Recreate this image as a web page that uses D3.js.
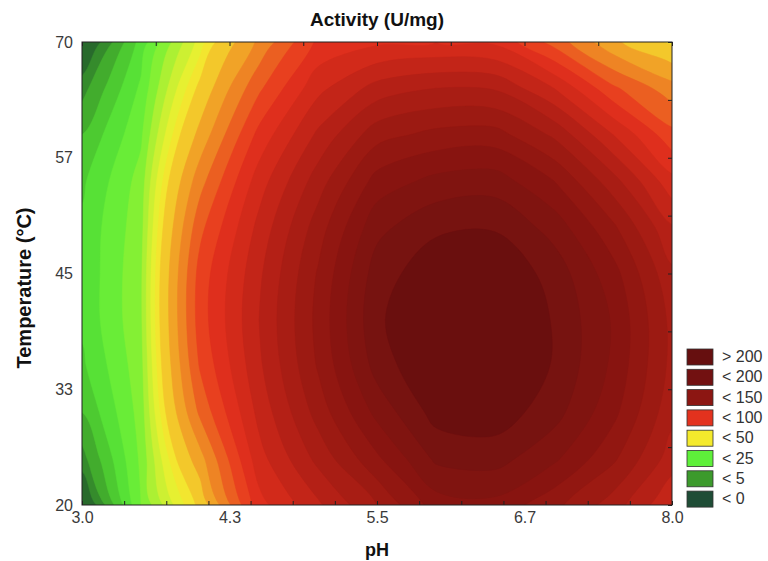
<!DOCTYPE html>
<html>
<head>
<meta charset="utf-8">
<script src="https://cdn.jsdelivr.net/npm/d3@7"></script>
<style>
  body { margin: 0; background: #fff; }
  svg { display: block; font-family: "Liberation Sans", Arial, sans-serif; }
  .axis text { fill: #3a3a3a; font-size: 16px; font-family: "Liberation Sans", Arial, sans-serif; }
  .title, .label { font-weight: bold; fill: #111; }
  .legend text { fill: #333; font-size: 16px; }
</style>
</head>
<body>
<svg width="768" height="561"></svg>
<script>
const phValues = [3.0, 3.5, 4.0, 4.5, 5.0, 5.5, 6.0, 6.5, 7.0, 7.5, 8.0]
const tempValues = [20, 25, 30, 35, 40, 45, 50, 55, 60, 65, 70]

// activity (U/mg), one row per temperature (20 -> 70), one column per pH
const activity = [
    [-8, 25, 52, 106, 128, 150, 175, 177, 163, 145, 121],
    [ 3, 26, 66, 116, 143, 168, 192, 194, 182, 162, 135],
    [10, 27, 82, 123, 154, 183, 204, 206, 194, 173, 143],
    [14, 28, 91, 128, 161, 194, 211, 213, 199, 178, 147],
    [16, 29, 95, 130, 163, 198, 212, 214, 199, 179, 147],
    [16, 29, 94, 128, 161, 195, 207, 209, 196, 174, 142],
    [16, 28, 87, 123, 155, 187, 198, 199, 186, 162, 131],
    [14, 27, 76, 115, 145, 174, 183, 185, 170, 144, 113],
    [10, 24, 63, 103, 132, 156, 163, 164, 148, 120,  93],
    [ 3, 21, 52,  88, 117, 134, 140, 139, 120,  92,  74],
    [-8, 17, 42,  72, 102, 108, 110, 108,  86,  62,  48]
]

const xTicks = [3.0, 4.25, 5.5, 6.75, 8.0]
const xTickLabels = ["3.0", "4.3", "5.5", "6.7", "8.0"]
const yTicks = [20, 32.5, 45, 57.5, 70]
const yTickLabels = ["20", "33", "45", "57", "70"]

const legendLabels = ["> 200", "< 200", "< 150", "< 100", "< 50", "< 25", "< 5", "< 0"]
const legendColors = ["#660f0f", "#721111", "#8c1612", "#e3321e", "#f4ea2c", "#5ef03a", "#3c9a2c", "#1f4d36"]

// value -> colour anchors of the map
const colorStops = [-15, 0, 5, 12, 20, 27, 35, 45, 52, 62, 75, 88, 100, 115, 135, 155, 175, 195, 207]
const colorRange = ["#1c4a2c", "#2e7a2c", "#3c9c2c", "#4cc830", "#5cec38", "#80f034", "#c0f032", "#f2f030",
    "#f4d42c", "#f2ac28", "#ee8424", "#ea5420", "#e6321e", "#d22a1a", "#b42016", "#9c1a12", "#881410",
    "#771310", "#6a0f0e"]

const levels = d3.range(-20, 0, 10).concat(d3.range(0, 50, 5), d3.range(50, 201, 10))

const svg = d3.select("svg")

const x = d3.scaleLinear()
    .domain([3, 8])
    .range([82, 672])

const y = d3.scaleLinear()
    .domain([20, 70])
    .range([505, 42])

const color = d3.scaleLinear()
    .domain(colorStops)
    .range(colorRange)
    .clamp(true)

svg.append("rect")
    .attr("width", 768)
    .attr("height", 561)
    .attr("fill", "#fff")

svg.append("clipPath")
    .attr("id", "plot-clip")
    .append("rect")
    .attr("x", x(3))
    .attr("y", y(70))
    .attr("width", x(8) - x(3))
    .attr("height", y(20) - y(70))

// grid coordinates from d3.contours put sample i at i + 0.5
const gx = d3.scaleLinear()
    .domain([0.5, phValues.length - 0.5])
    .range([x(phValues[0]), x(phValues[phValues.length - 1])])

const gy = d3.scaleLinear()
    .domain([0.5, tempValues.length - 0.5])
    .range([y(tempValues[0]), y(tempValues[tempValues.length - 1])])

const ringLine = d3.line()
    .x((p) => { return gx(p[0]) })
    .y((p) => { return gy(p[1]) })
    .curve(d3.curveCatmullRomClosed.alpha(0.5))

// smooth each contour ring instead of straight marching-squares segments
const smoothPath = (d) => {
    return d.coordinates.map((polygon) => {
        return polygon.map((ring) => { return ringLine(ring.slice(0, -1)) }).join("")
    }).join("")
}

const contours = d3.contours()
    .size([phValues.length, tempValues.length])
    .thresholds(levels)(activity.flat())

const bandColor = (d, i) => {
    const next = i < levels.length - 1 ? levels[i + 1] : d.value + 14
    return color((d.value + next) / 2)
}

svg.append("g")
    .attr("clip-path", "url(#plot-clip)")
    .selectAll("path")
    .data(contours)
    .enter()
    .append("path")
    .attr("d", smoothPath)
    .attr("fill-rule", "evenodd")
    .attr("fill", bandColor)
    .attr("stroke", bandColor)
    .attr("stroke-width", 0.5)

// small inner tick marks
const minor = (g) => {
    g.select(".domain").remove()
    g.selectAll("line").attr("stroke", "#222")
}

svg.append("g")
    .attr("transform", `translate(0, ${y(20)})`)
    .call(d3.axisTop(x).tickValues(d3.range(0, 15).map((i) => { return 3 + i * 5 / 14 })).tickSize(4).tickFormat(""))
    .call(minor)

svg.append("g")
    .attr("transform", `translate(0, ${y(70)})`)
    .call(d3.axisBottom(x).tickValues(d3.range(0, 9).map((i) => { return 3 + i * 5 / 8 })).tickSize(4).tickFormat(""))
    .call(minor)

svg.append("g")
    .attr("transform", `translate(${x(8)}, 0)`)
    .call(d3.axisLeft(y).tickValues(d3.range(0, 9).map((i) => { return 20 + i * 50 / 8 })).tickSize(4).tickFormat(""))
    .call(minor)

svg.append("rect")
    .attr("x", x(3))
    .attr("y", y(70))
    .attr("width", x(8) - x(3))
    .attr("height", y(20) - y(70))
    .attr("fill", "none")
    .attr("stroke", "#222")
    .attr("stroke-width", 1)

// tick labels
svg.append("g")
    .attr("class", "axis")
    .attr("transform", `translate(0, ${y(20)})`)
    .call(d3.axisBottom(x).tickValues(xTicks).tickSize(0).tickPadding(7)
        .tickFormat((d, i) => { return xTickLabels[i] }))
    .call((g) => { g.select(".domain").remove() })

svg.append("g")
    .attr("class", "axis")
    .attr("transform", `translate(${x(3)}, 0)`)
    .call(d3.axisLeft(y).tickValues(yTicks).tickSize(0).tickPadding(9)
        .tickFormat((d, i) => { return yTickLabels[i] }))
    .call((g) => { g.select(".domain").remove() })

svg.append("text")
    .attr("class", "title")
    .attr("x", (x(3) + x(8)) / 2)
    .attr("y", 26)
    .attr("text-anchor", "middle")
    .style("font-size", "19px")
    .text("Activity (U/mg)")

svg.append("text")
    .attr("class", "label")
    .attr("x", (x(3) + x(8)) / 2)
    .attr("y", 556)
    .attr("text-anchor", "middle")
    .style("font-size", "18px")
    .text("pH")

svg.append("text")
    .attr("class", "label")
    .attr("transform", "translate(31, 288) rotate(-90)")
    .attr("text-anchor", "middle")
    .style("font-size", "20px")
    .text("Temperature (°C)")

// legend
const legend = svg.append("g")
    .attr("class", "legend")
    .selectAll("g")
    .data(legendLabels)
    .enter()
    .append("g")
    .attr("transform", (d, i) => { return `translate(687, ${349 + i * 20.3})` })

legend.append("rect")
    .attr("width", 26)
    .attr("height", 16)
    .attr("fill", (d, i) => { return legendColors[i] })
    .attr("stroke", "#333")
    .attr("stroke-width", 0.8)

legend.append("text")
    .attr("x", 35)
    .attr("y", 13)
    .text((d) => { return d })
</script>
</body>
</html>
